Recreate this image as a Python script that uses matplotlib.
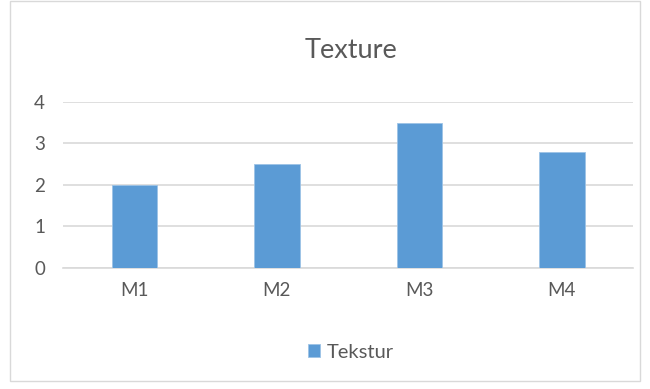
import matplotlib
matplotlib.use("Agg")
import matplotlib.pyplot as plt
from matplotlib.patches import Rectangle

# --- Data ---
categories = ["M1", "M2", "M3", "M4"]
values = [2.0, 2.5, 3.5, 2.8]
series_name = "Tekstur"
y_ticks = [0, 1, 2, 3, 4]

text_color = "#595959"
bar_color = "#5B9BD5"
grid_color = "#D9D9D9"

plt.rcParams["font.family"] = ["Lato", "DejaVu Sans"]

fig = plt.figure(figsize=(6.5, 3.89), dpi=100)
ax = fig.add_axes([0.097, 0.311, 0.877, 0.427])

# --- Plot ---
x = range(len(categories))
ax.bar(x, values, width=0.32, color=bar_color, edgecolor="#9DC3E6", linewidth=0.6,
       label=series_name, zorder=3)

ax.set_xlim(-0.5, len(categories) - 0.5)
ax.set_ylim(0, 4)
ax.set_yticks(y_ticks)
ax.set_xticks(list(x))
ax.set_xticklabels(categories)
ax.grid(axis="y", color=grid_color, linewidth=1.2, zorder=0)
ax.tick_params(length=0, labelsize=13.5, colors=text_color)
ax.tick_params(axis="x", pad=10)
ax.tick_params(axis="y", pad=13)
for s in ["left", "right", "top"]:
    ax.spines[s].set_visible(False)
ax.spines["bottom"].set_color(grid_color)
ax.spines["bottom"].set_linewidth(1.2)

fig.text(0.54, 0.87, "Texture", ha="center", va="center", fontsize=19.5, color=text_color)

fig.legend(loc="center", bbox_to_anchor=(0.54, 0.095), frameon=False, fontsize=14.5,
           labelcolor=text_color, handlelength=0.6, handleheight=0.6, handletextpad=0.3)

# outer chart border
fig.patches.append(Rectangle((0.016, 0.02), 0.969, 0.977, transform=fig.transFigure,
                             fill=False, edgecolor="#D9D9D9", linewidth=1.0))

fig.savefig("out.png", dpi=100)
